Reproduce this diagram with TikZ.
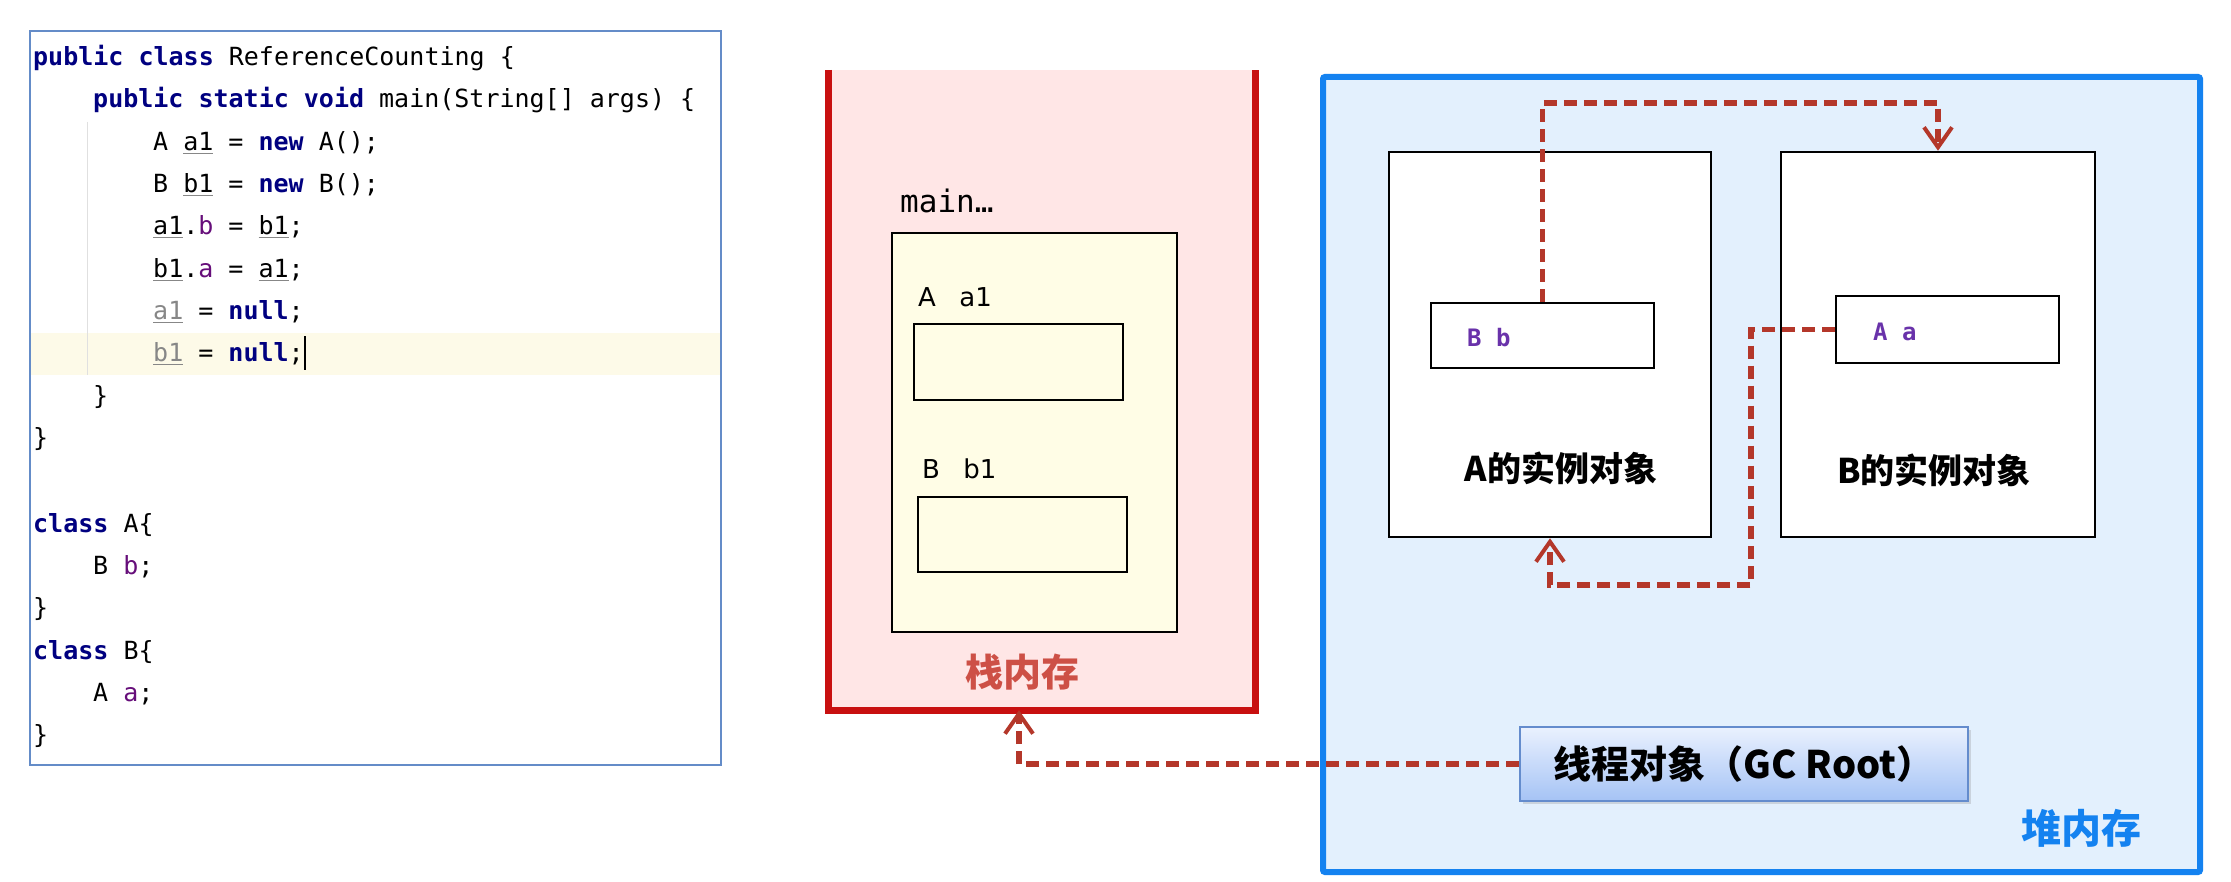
\documentclass[tikz,border=0pt]{standalone}
\usepackage{fontspec}
\setmainfont{DejaVu Sans}
\newfontfamily\codefont{DejaVu Sans Mono}
\newfontfamily\cjk{Noto Sans CJK SC}
\usetikzlibrary{arrows.meta,positioning,shadows}

\definecolor{kwblue}{RGB}{0,0,128}
\definecolor{fieldpurple}{RGB}{102,14,122}
\definecolor{unusedgray}{RGB}{135,135,135}
\definecolor{codeframe}{RGB}{100,140,200}
\definecolor{caretrow}{RGB}{253,250,232}
\definecolor{stackpink}{RGB}{255,230,230}
\definecolor{stackred}{RGB}{200,16,16}
\definecolor{stacktext}{RGB}{205,80,70}
\definecolor{framecream}{RGB}{255,253,230}
\definecolor{heapblue}{RGB}{20,130,240}
\definecolor{heapfill}{RGB}{227,240,253}
\definecolor{refred}{RGB}{180,55,42}
\definecolor{objpurple}{RGB}{105,50,170}
\definecolor{gctop}{RGB}{234,241,254}
\definecolor{gcbottom}{RGB}{165,195,245}
\definecolor{gcedge}{RGB}{100,140,205}

\newcommand\kw[1]{\textcolor{kwblue}{\bfseries #1}}
\newcommand\fld[1]{\textcolor{fieldpurple}{#1}}
\newcommand\uvar[1]{{\color{unusedgray}\underline{\color{black}#1}}}
\newcommand\gvar[1]{{\color{unusedgray}\underline{#1}}}

\begin{document}
\begin{tikzpicture}[x=1pt, y=-1pt,
  codeline/.style={anchor=base west, inner sep=0pt, font=\codefont\fontsize{25}{30}\selectfont},
  plainbox/.style={draw, line width=2.5pt, inner sep=0pt},
  varlbl/.style={anchor=west, inner sep=0pt, font=\fontsize{26}{30}\selectfont},
  fieldlbl/.style={anchor=west, inner sep=0pt, text=objpurple, font=\codefont\bfseries\fontsize{24}{28}\selectfont},
  objtitle/.style={inner sep=0pt, font=\cjk\bfseries\fontsize{34}{40}\selectfont},
  refarrow/.style={draw=refred, line width=5.5pt, dash pattern=on 13pt off 7pt,
    -{Straight Barb[length=20pt, width=28pt, line width=4pt]}}
]
\useasboundingbox (0,0) rectangle (2231,882);
\fill[white] (0,0) rectangle (2231,882);

% code listing
\node[draw=codeframe, line width=2pt, fill=white, minimum width=691pt, minimum height=734pt] (codepane) at (375.5,398) {};
\fill[caretrow] (31,333) rectangle (720,375);
\draw[black!12, line width=1pt] (87,122) -- (87,375);
\node[codeline] (l1) at (33,66) {\kw{public} \kw{class} ReferenceCounting \{};
\node[codeline] (l2) at (93,108) {\kw{public} \kw{static} \kw{void} main(String[] args) \{};
\node[codeline] (l3) at (153,151) {A \uvar{a1} = \kw{new} A();};
\node[codeline] (l4) at (153,193) {B \uvar{b1} = \kw{new} B();};
\node[codeline] (l5) at (153,235) {\uvar{a1}.\fld{b} = \uvar{b1};};
\node[codeline] (l6) at (153,278) {\uvar{b1}.\fld{a} = \uvar{a1};};
\node[codeline] (l7) at (153,320) {\gvar{a1} = \kw{null};};
\node[codeline] (l8) at (153,362) {\gvar{b1} = \kw{null};};
\draw[line width=1.5pt] ([xshift=1pt]l8.base east) ++(0,8) -- ++(0,-34);
\node[codeline] (l9) at (93,405) {\}};
\node[codeline] (l10) at (33,447) {\}};
\node[codeline] (l12) at (33,532) {\kw{class} A\{};
\node[codeline] (l13) at (93,574) {B \fld{b};};
\node[codeline] (l14) at (33,616) {\}};
\node[codeline] (l15) at (33,659) {\kw{class} B\{};
\node[codeline] (l16) at (93,701) {A \fld{a};};
\node[codeline] (l17) at (33,743) {\}};

% stack
\node[fill=stackpink, minimum width=426pt, minimum height=640pt] (stack) at (1042,390) {};
\draw[stackred, line width=7pt] (stack.north west) -- (stack.south west) -- (stack.south east) -- (stack.north east);
\node[plainbox, fill=framecream, minimum width=285pt, minimum height=399pt] (frame) at (1034.5,432.5) {};
\node[anchor=west, inner sep=0pt, font=\codefont\fontsize{31}{34}\selectfont] (mainlbl) at (900,201) {main…};
\node[plainbox, minimum width=209pt, minimum height=76pt] (a1box) at (1018.5,362) {};
\node[plainbox, minimum width=209pt, minimum height=75pt] (b1box) at (1022.5,534.5) {};
\node[varlbl] (a1lbl) at (918,297) {A\hspace{0.9em}a1};
\node[varlbl] (b1lbl) at (922,469) {B\hspace{0.9em}b1};
\node[inner sep=0pt, text=stacktext, font=\cjk\bfseries\fontsize{38}{42}\selectfont] (stacklbl) at (1022,672) {栈内存};

% heap
\node[draw=heapblue, line width=6pt, fill=heapfill, rounded corners=2pt, minimum width=877pt, minimum height=795pt] (heap) at (1761.5,474.5) {};
\node[plainbox, fill=white, minimum width=322pt, minimum height=385pt] (Aobj) at (1550,344.5) {};
\node[plainbox, fill=white, minimum width=314pt, minimum height=385pt] (Bobj) at (1938,344.5) {};
\node[plainbox, minimum width=223pt, minimum height=65pt] (Bb) at (1542.5,335.5) {};
\node[plainbox, minimum width=223pt, minimum height=67pt] (Aa) at (1947.5,329.5) {};
\node[fieldlbl] (Bblbl) at (1467,338) {B b};
\node[fieldlbl] (Aalbl) at (1873,332) {A a};
\node[objtitle] (Atitle) at (1561,468) {A的实例对象};
\node[objtitle] (Btitle) at (1934,470) {B的实例对象};
\node[draw=gcedge, line width=2pt, top color=gctop, bottom color=gcbottom,
  drop shadow={opacity=0.25, shadow xshift=3pt, shadow yshift=-3pt},
  minimum width=448pt, minimum height=74pt, inner sep=0pt,
  font=\cjk\bfseries\fontsize{38}{42}\selectfont] (gc) at (1744,764) {线程对象（GC Root）};
\node[inner sep=0pt, text=heapblue, font=\cjk\bfseries\fontsize{40}{44}\selectfont] (heaplbl) at (2081,828) {堆内存};

% references
\coordinate (bendab) at (1938,103);
\coordinate (bendba) at (1751,585);
\draw[refarrow] (Bb.north) |- (bendab) -- (Bobj.north);
\draw[refarrow] (Aa.west) -| (bendba) -| (Aobj.south);
\draw[refarrow] (gc.west) -| ([xshift=-23pt]stack.south);
\end{tikzpicture}
\end{document}
